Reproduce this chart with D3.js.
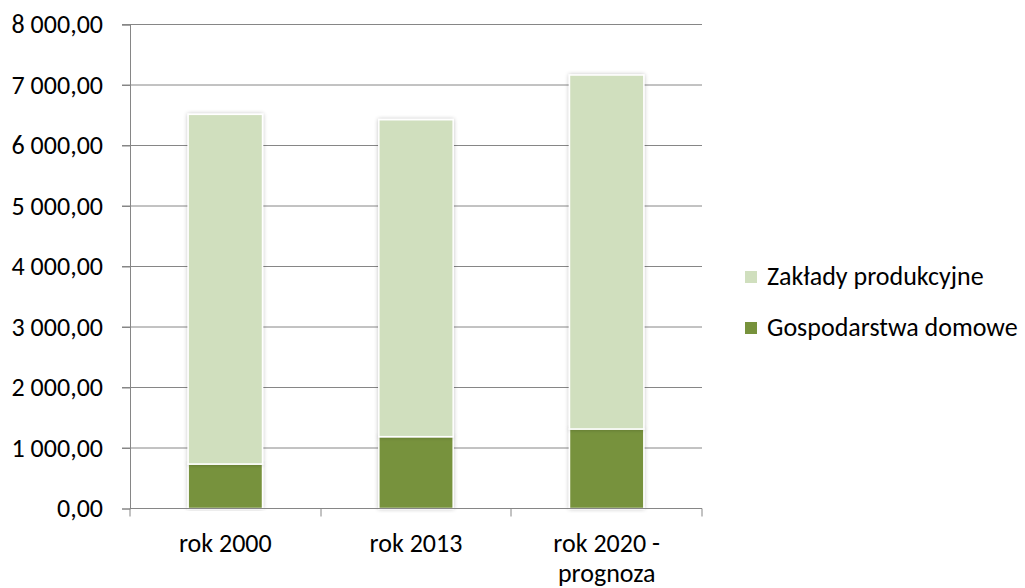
<!DOCTYPE html>
<html>
<head>
<meta charset="utf-8">
<script src="https://cdn.jsdelivr.net/npm/d3@7"></script>
<style>
  body { margin: 0; background: #fff; }
  text { font-family: Carlito, Lato, "Open Sans", sans-serif; fill: #000; }
</style>
</head>
<body>
<svg id="chart"></svg>
<script>
const categories = [['rok 2000'], ['rok 2013'], ['rok 2020 -', 'prognoza']];
const households = [735, 1187, 1314];
const factories = [5780, 5239, 5851];
const seriesNames = ['Gospodarstwa domowe', 'Zakłady produkcyjne'];
const seriesColors = ['#77923c', '#d0dfbe'];
const yTicks = [0, 1000, 2000, 3000, 4000, 5000, 6000, 7000, 8000];

const width = 1025, height = 588;
const fontSize = '26px';
const svg = d3.select('#chart').attr('width', width).attr('height', height);

const x = d3.scaleBand().domain(d3.range(categories.length)).range([130, 702]).paddingInner(0.61).paddingOuter(0.305);
const y = d3.scaleLinear().domain([0, 8000]).range([508.5, 24.5]);

const fmt = v => d3.format(',.2f')(v).replace(/,/g, ' ').replace('.', ',');

// gridlines
svg.append('g').selectAll('line')
  .data(yTicks.slice(1))
  .enter().append('line')
  .attr('x1', 122).attr('x2', 702)
  .attr('y1', d => y(d)).attr('y2', d => y(d))
  .attr('stroke', '#868686').attr('stroke-width', 1);

// y axis
const yAxis = svg.append('g')
  .attr('transform', 'translate(130,0)')
  .call(d3.axisLeft(y).tickValues(yTicks).tickFormat(fmt).tickSize(8).tickPadding(19));
yAxis.selectAll('path, line').attr('stroke', '#868686');
yAxis.attr('font-size', null).attr('font-family', null);
yAxis.selectAll('text').style('font-size', fontSize);

// shadow filter
const defs = svg.append('defs');
const f = defs.append('filter').attr('id', 'shadow').attr('x', '-20%').attr('y', '-5%').attr('width', '140%').attr('height', '110%');
f.append('feGaussianBlur').attr('in', 'SourceAlpha').attr('stdDeviation', 2);
f.append('feComponentTransfer').append('feFuncA').attr('type', 'linear').attr('slope', 0.25);
const m = f.append('feMerge');
m.append('feMergeNode');
m.append('feMergeNode').attr('in', 'SourceGraphic');

const stacked = d3.stack().keys([0, 1])(categories.map((c, i) => [households[i], factories[i]]));

const layers = svg.append('g').selectAll('g')
  .data(stacked)
  .enter().append('g')
  .attr('fill', (d, i) => seriesColors[i]);

layers.selectAll('rect')
  .data(d => d.map((v, i) => ({ v, i })))
  .enter().append('rect')
  .attr('x', d => x(d.i))
  .attr('width', x.bandwidth())
  .attr('y', d => y(d.v[1]))
  .attr('height', d => y(d.v[0]) - y(d.v[1]))
  .attr('stroke', '#fff')
  .attr('stroke-width', 1.5)
  .attr('filter', 'url(#shadow)');

// x axis
const xAxisG = svg.append('g').attr('transform', 'translate(0,508.5)');
xAxisG.append('line').attr('x1', 130).attr('x2', 702).attr('stroke', '#868686');
const bounds = [130, 321, 511, 702];
xAxisG.selectAll('.tk').data(bounds).enter().append('line')
  .attr('x1', d => d).attr('x2', d => d).attr('y1', 0).attr('y2', 8)
  .attr('stroke', '#868686');

xAxisG.selectAll('.lbl').data(categories).enter().append('text')
  .attr('text-anchor', 'middle')
  .attr('x', (d, i) => x(i) + x.bandwidth() / 2)
  .style('font-size', fontSize)
  .selectAll('tspan').data(d => d).enter().append('tspan')
  .attr('x', function() { return d3.select(this.parentNode).attr('x'); })
  .attr('y', (d, j) => 43 + j * 30)
  .text(d => d);

// legend
const legendItems = [1, 0];
const legend = svg.append('g').selectAll('g')
  .data(legendItems)
  .enter().append('g')
  .attr('transform', (d, i) => 'translate(745,' + (277 + i * 51) + ')');
legend.append('rect').attr('x', 0).attr('y', -6).attr('width', 12).attr('height', 12)
  .attr('fill', d => seriesColors[d]);
legend.append('text').attr('x', 22).attr('y', 7.5)
  .style('font-size', fontSize)
  .text(d => seriesNames[d]);
</script>
</body>
</html>
